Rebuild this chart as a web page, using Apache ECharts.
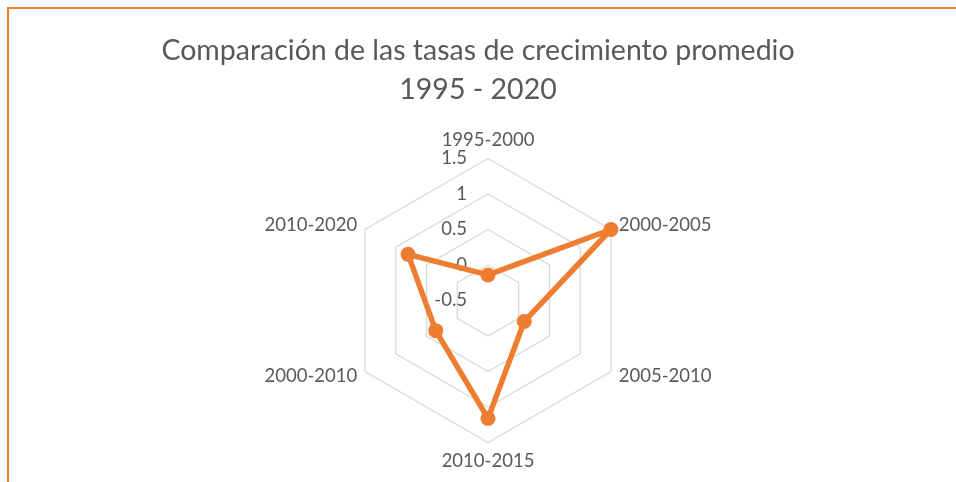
<!DOCTYPE html>
<html>
<head>
<meta charset="utf-8">
<script src="https://cdn.jsdelivr.net/npm/echarts@6/dist/echarts.min.js"></script>
<style>html,body{margin:0;padding:0;background:#fff;}#c{width:956px;height:482px;}</style>
</head>
<body>
<div id="c"></div>
<script>
// Categories in clockwise order starting from the top
const categories = ['1995-2000', '2000-2005', '2005-2010', '2010-2015', '2000-2010', '2010-2020'];
const values = [-0.14, 1.5, 0.09, 1.16, 0.35, 0.80];
const tickLabels = ['-0.5', '0', '0.5', '1', '1.5'];
const axisMin = -0.5, axisMax = 1.5;

// ECharts radar runs counterclockwise; reorder to get clockwise display
const order = [0].concat(categories.map((_, i) => i).slice(1).reverse());
const indicator = order.map((i, k) => {
  const o = { name: categories[i], min: axisMin, max: axisMax };
  if (k === 0) o.axisLabel = { show: true };
  return o;
});
const dataOrdered = order.map(i => values[i]);

const chart = echarts.init(document.getElementById('c'));
chart.setOption({
  backgroundColor: '#fff',
  animation: false,
  title: {
    text: 'Comparación de las tasas de crecimiento promedio\n1995 - 2020',
    left: 'center',
    top: 26,
    textStyle: { fontFamily: 'Lato', fontSize: 28.5, fontWeight: 'normal', color: '#595959', lineHeight: 39 }
  },
  graphic: [{
    type: 'rect', silent: true,
    shape: { x: 8, y: 8, width: 1200, height: 1000 },
    style: { fill: 'none', stroke: '#ED7D31', lineWidth: 2 }
  }],
  radar: {
    center: [488, 300.5],
    radius: 142,
    splitNumber: 4,
    shape: 'polygon',
    indicator: indicator,
    nameGap: 9,
    axisName: { color: '#595959', fontFamily: 'Lato', fontSize: 18.5 },
    axisLine: { show: false },
    axisTick: { show: false },
    splitArea: { show: false },
    splitLine: { lineStyle: { color: '#D9D9D9', width: 1.3 } },
    axisLabel: {
      show: false, color: '#595959', fontFamily: 'Lato', fontSize: 18.5, margin: 21,
      formatter: (v) => tickLabels[Math.round((v - axisMin) / 0.5)] ?? String(v)
    }
  },
  series: [{
    type: 'radar',
    symbol: 'circle',
    symbolSize: 15,
    lineStyle: { color: '#ED7D31', width: 5.5 },
    itemStyle: { color: '#ED7D31' },
    data: [{ value: dataOrdered, name: 'Tasa' }]
  }]
});
</script>
</body>
</html>
